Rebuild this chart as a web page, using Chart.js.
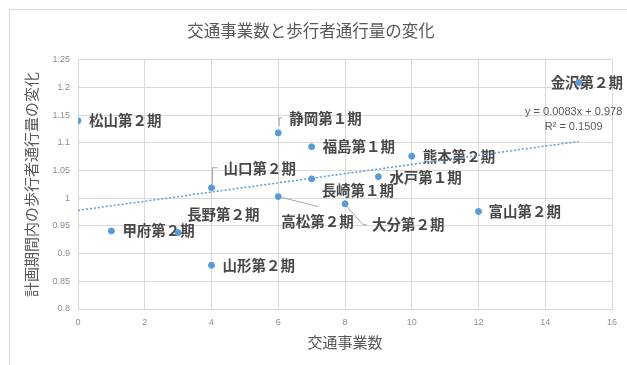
<!DOCTYPE html>
<html lang="ja">
<head>
<meta charset="utf-8">
<title>交通事業数と歩行者通行量の変化</title>
<script src="https://cdn.jsdelivr.net/npm/chart.js@4.4.1/dist/chart.umd.min.js"></script>
<style>
  html, body { margin: 0; padding: 0; background: #ffffff; }
  canvas { display: block; }
</style>
</head>
<body>
<canvas id="chart" width="627" height="365"></canvas>
<script>
// Cities / plan periods
const cityLabels = [
  '松山第２期', '山口第２期', '静岡第１期', '福島第１期', '熊本第２期',
  '水戸第１期', '長崎第１期', '高松第２期', '大分第２期', '富山第２期',
  '甲府第２期', '長野第２期', '山形第２期', '金沢第２期'
];
// Number of transport projects
const projectCounts = [0, 4, 6, 7, 10, 9, 7, 6, 8, 12, 1, 3, 4, 15];
// Change in pedestrian volume during the plan period
const volumeChange = [1.140, 1.019, 1.118, 1.093, 1.076, 1.039, 1.035, 1.003, 0.990, 0.976, 0.941, 0.938, 0.879, 1.209];

// Linear trend (as stated in the equation label)
const trendSlope = 0.0083;
const trendIntercept = 0.978;
const trendRange = [0, 15];
const trendText = ['y = 0.0083x + 0.978', 'R² = 0.1509'];

// Axis ranges and ticks
const xTicks = [0, 2, 4, 6, 8, 10, 12, 14, 16];
const yTicks = [0.8, 0.85, 0.9, 0.95, 1, 1.05, 1.1, 1.15, 1.2, 1.25];

// Data-label placement relative to each point (pixels), with optional leader path
const labelPlacement = {
  '松山第２期': { dx: 11, dy: 0 },
  '山口第２期': { dx: 12, dy: -19, leader: [[1, -4], [1, -20], [6, -20]] },
  '静岡第１期': { dx: 11, dy: -14, leader: [[1, -7], [1, -15], [4, -15]] },
  '福島第１期': { dx: 11, dy: 0 },
  '熊本第２期': { dx: 11, dy: 0 },
  '水戸第１期': { dx: 11, dy: 1 },
  '長崎第１期': { dx: 10, dy: 12 },
  '高松第２期': { dx: 3, dy: 25, leader: [[4, 1], [40, 10]] },
  '大分第２期': { dx: 27, dy: 21, leader: [[2, 3], [18, 21], [22, 21]] },
  '富山第２期': { dx: 10, dy: 0 },
  '甲府第２期': { dx: 11, dy: 0 },
  '長野第２期': { dx: 9, dy: -18 },
  '山形第２期': { dx: 11, dy: 0 },
  '金沢第２期': { dx: -28, dy: 0 }
};

const CJK = '"Noto Sans CJK JP", "Noto Sans", sans-serif';
const LATIN = '"Liberation Sans", Arial, sans-serif';
const GRID = '#d9d9d9';
const BLUE = '#5b9bd5';

const points = projectCounts.map((x, i) => ({ x: x, y: volumeChange[i] }));
const trendPoints = trendRange.map(x => ({ x: x, y: trendIntercept + trendSlope * x }));

// Outer frame of the chart area
const framePlugin = {
  id: 'frame',
  beforeDraw(chart) {
    const ctx = chart.ctx;
    ctx.save();
    ctx.fillStyle = '#ffffff';
    ctx.fillRect(0, 0, chart.width, chart.height);
    ctx.strokeStyle = GRID;
    ctx.lineWidth = 1;
    ctx.beginPath();
    ctx.moveTo(9.5, chart.height);
    ctx.lineTo(9.5, 9.5);
    ctx.lineTo(chart.width, 9.5);
    ctx.stroke();
    ctx.restore();
  }
};

// City labels next to the points, plus the trend equation
const labelPlugin = {
  id: 'pointLabels',
  beforeDatasetsDraw(chart) {
    const ctx = chart.ctx;
    const meta = chart.getDatasetMeta(0);
    ctx.save();
    ctx.font = 'bold 14.5px ' + CJK;
    ctx.fillStyle = '#484848';
    ctx.textAlign = 'left';
    ctx.textBaseline = 'middle';
    meta.data.forEach((el, i) => {
      const name = cityLabels[i];
      const p = labelPlacement[name] || { dx: 10, dy: 0 };
      if (p.leader) {
        ctx.strokeStyle = '#a6a6a6';
        ctx.lineWidth = 1;
        ctx.beginPath();
        p.leader.forEach((pt, k) => {
          const lx = el.x + pt[0], ly = el.y + pt[1];
          if (k === 0) ctx.moveTo(lx, ly); else ctx.lineTo(lx, ly);
        });
        ctx.stroke();
      }
      ctx.fillText(name, el.x + p.dx, el.y + p.dy);
    });

    // Trend equation, anchored above the end of the trend line
    const xs = chart.scales.x, ys = chart.scales.y;
    const ex = xs.getPixelForValue(trendRange[1]);
    const ey = ys.getPixelForValue(trendIntercept + trendSlope * trendRange[1]);
    ctx.font = '11px ' + LATIN;
    ctx.fillStyle = '#595959';
    ctx.textAlign = 'center';
    ctx.fillText(trendText[0], ex - 5, ey - 30);
    ctx.fillText(trendText[1], ex - 5, ey - 15);
    ctx.restore();
  }
};

new Chart(document.getElementById('chart'), {
  type: 'scatter',
  data: {
    datasets: [
      {
        label: '歩行者通行量の変化',
        data: points,
        backgroundColor: BLUE,
        borderColor: BLUE,
        borderWidth: 1,
        pointRadius: 3,
        pointHoverRadius: 3
      },
      {
        type: 'line',
        label: '線形近似',
        data: trendPoints,
        borderColor: BLUE,
        borderWidth: 1.5,
        borderDash: [2, 2],
        pointRadius: 0,
        fill: false,
        tension: 0
      }
    ]
  },
  options: {
    responsive: false,
    animation: false,
    devicePixelRatio: 1,
    layout: { padding: { top: 10, left: 10, right: 15, bottom: 0 } },
    plugins: {
      legend: { display: false },
      tooltip: { enabled: false },
      title: {
        display: true,
        text: '交通事業数と歩行者通行量の変化',
        color: '#595959',
        font: { family: CJK, size: 16.5, weight: 'normal', lineHeight: 1.2 },
        padding: { top: 11, bottom: 19 }
      }
    },
    scales: {
      x: {
        type: 'linear',
        min: xTicks[0],
        max: xTicks[xTicks.length - 1],
        afterBuildTicks: s => { s.ticks = xTicks.map(v => ({ value: v })); },
        afterFit: s => { s.height = 56; },
        grid: { color: GRID, lineWidth: 1, drawTicks: false },
        border: { color: GRID },
        ticks: {
          color: '#8c8c8c',
          font: { family: LATIN, size: 9 },
          padding: 8,
          callback: v => String(v)
        },
        title: {
          display: true,
          text: '交通事業数',
          color: '#595959',
          font: { family: CJK, size: 15, weight: 'normal', lineHeight: 1.2 },
          padding: { top: 0, bottom: 14 }
        }
      },
      y: {
        type: 'linear',
        min: yTicks[0],
        max: yTicks[yTicks.length - 1],
        afterBuildTicks: s => { s.ticks = yTicks.map(v => ({ value: v })); },
        afterFit: s => { s.width = 68; },
        grid: { color: GRID, lineWidth: 1, drawTicks: false },
        border: { color: GRID },
        ticks: {
          color: '#8c8c8c',
          font: { family: LATIN, size: 9 },
          padding: 8,
          callback: v => String(Number(v.toFixed(2)))
        },
        title: {
          display: true,
          text: '計画期間内の歩行者通行量の変化',
          color: '#595959',
          font: { family: CJK, size: 15, weight: 'normal', lineHeight: 1.2 },
          padding: { top: 12, bottom: 0 }
        }
      }
    }
  },
  plugins: [framePlugin, labelPlugin]
});
</script>
</body>
</html>
